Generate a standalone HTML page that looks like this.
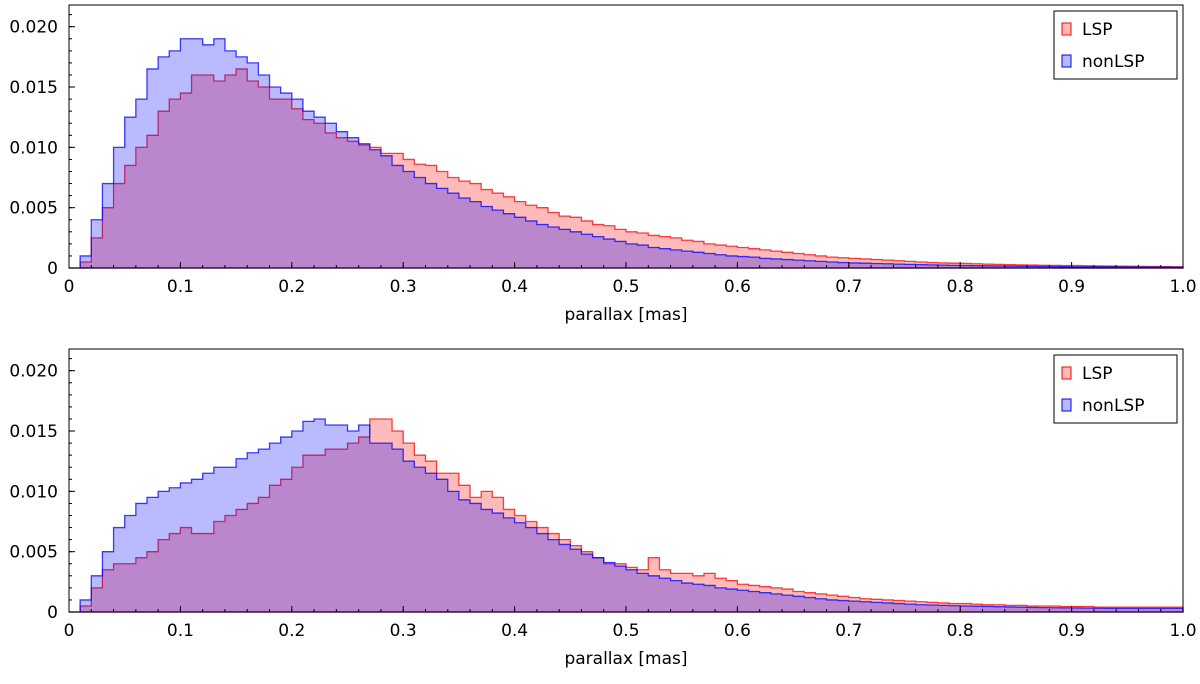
<!DOCTYPE html>
<html><head><meta charset="utf-8"><style>
body{margin:0;background:#fff;font-family:"DejaVu Sans","Liberation Sans",sans-serif}
svg text{font-family:"DejaVu Sans","Liberation Sans",sans-serif;font-size:17px;fill:#000}
</style></head><body>
<svg id="c" width="1200" height="680"></svg>
<script>
// bin edges: 100 bins of 0.01 from 0 to 1 (values in units of 1e-3)
const binStart = 0, binWidth = 0.01;
const topLSP = [0,0.5,2.5,5,7,8.5,10,11,13,14,14.5,16,16,15.5,16,16.5,15.5,15,14,14,13.2,12.3,12,11.2,10.8,10.5,10.2,10,9.5,9.5,9,8.6,8.5,8,7.5,7.2,7,6.5,6.2,5.9,5.5,5.2,5,4.6,4.3,4.2,3.9,3.6,3.5,3.2,3,2.9,2.7,2.6,2.5,2.3,2.2,2,1.9,1.8,1.7,1.6,1.5,1.4,1.3,1.2,1.1,1,0.9,0.85,0.8,0.75,0.7,0.65,0.6,0.55,0.5,0.45,0.42,0.4,0.38,0.35,0.32,0.3,0.28,0.26,0.25,0.23,0.22,0.2,0.2,0.18,0.17,0.16,0.15,0.14,0.13,0.12,0.11,0.1];
const topNon = [0,1,4,7,10,12.5,14,16.5,17.5,18,19,19,18.5,19,18,17.5,17,16,15,14.5,14,13,12.5,12,11.3,10.8,10.3,9.8,9.3,8.5,8,7.5,7,6.6,6.2,5.8,5.5,5.1,4.8,4.5,4.2,3.9,3.6,3.4,3.2,3,2.8,2.6,2.4,2.2,2,1.9,1.7,1.6,1.5,1.4,1.3,1.2,1.1,1,0.95,0.9,0.8,0.75,0.7,0.65,0.6,0.55,0.5,0.45,0.42,0.4,0.37,0.35,0.32,0.3,0.28,0.26,0.24,0.22,0.2,0.19,0.18,0.17,0.16,0.15,0.14,0.13,0.12,0.11,0.1,0.1,0.1,0.1,0.09,0.09,0.08,0.08,0.08,0.07];
const botLSP = [0,0.5,2,3.5,4,4,4.5,5,6,6.5,7,6.5,6.5,7.5,8,8.5,9,9.5,10.5,11,12,13,13,13.5,13.5,14,14.5,16,16,15,14,13,12.5,11.5,11.5,10.5,9.5,10,9.5,8.5,8,7.5,7,6.5,6,5.5,5,4.5,4,4,3.7,3.5,4.5,3.5,3.2,3.2,3,3.2,2.8,2.6,2.3,2.2,2.1,2,1.9,1.7,1.6,1.5,1.4,1.3,1.2,1.1,1.05,1,0.95,0.9,0.85,0.8,0.75,0.7,0.7,0.65,0.6,0.6,0.55,0.55,0.5,0.5,0.5,0.45,0.45,0.45,0.4,0.4,0.4,0.4,0.4,0.4,0.4,0.4];
const botNon = [0,1,3,5,7,8,9,9.5,10,10.3,10.7,11,11.5,12,12,12.7,13.2,13.5,14,14.5,15,15.8,16,15.5,15.5,15,15.5,14,14,13.5,12.5,12,11.5,11,10,9.3,9,8.5,8.2,7.8,7.4,7,6.5,6,5.6,5.2,4.8,4.5,4.1,3.8,3.5,3.2,3,2.8,2.6,2.4,2.3,2.2,2,1.9,1.8,1.7,1.6,1.5,1.4,1.3,1.2,1.1,1,0.95,0.9,0.85,0.8,0.75,0.7,0.65,0.6,0.58,0.55,0.52,0.5,0.48,0.46,0.44,0.42,0.4,0.38,0.36,0.35,0.34,0.33,0.32,0.31,0.3,0.3,0.3,0.3,0.3,0.3,0.3];
const xTicks = ["0","0.1","0.2","0.3","0.4","0.5","0.6","0.7","0.8","0.9","1.0"];
const yTicks = ["0","0.005","0.010","0.015","0.020"];
const seriesNames = ["LSP","nonLSP"];

const NS="http://www.w3.org/2000/svg";
const svg=document.getElementById('c');
function mk(t,a,p){const e=document.createElementNS(NS,t);for(const k in a)e.setAttribute(k,a[k]);(p||svg).appendChild(e);return e;}

function panel(top,bottom,lsp,non,name){
  const L=69,R=1183;
  const g=mk('g',{});
  
  
  const xs=v=>L+(v-0)*(R-L)/1.0;
  const ys=v=>bottom-(v/0.0218)*(bottom-top);
  function hist(vals,fill,stroke,nm){
    let d='M'+xs(binStart)+','+ys(0);
    vals.forEach((v,i)=>{const x0=xs(binStart+i*binWidth),x1=xs(binStart+(i+1)*binWidth),y=ys(v*1e-3);d+=' L'+x0+','+y+' L'+x1+','+y;});
    d+=' L'+xs(binStart+vals.length*binWidth)+','+ys(0)+' Z';
    const p=mk('path',{d:d,fill:fill,stroke:stroke,'stroke-width':1.3,'stroke-opacity':0.75},g);
    
    
  }
  hist(lsp,'rgba(255,0,0,0.27)','#ff0000',name+'-lsp-series');
  hist(non,'rgba(0,0,255,0.27)','#0000ff',name+'-nonlsp-series');
  const fr=mk('rect',{x:L,y:top,width:R-L,height:bottom-top,fill:'none',stroke:'#000','stroke-width':1},g);
  
  
  // x ticks
  xTicks.forEach((t,i)=>{const x=xs(i*0.1);
    mk('line',{x1:x,x2:x,y1:bottom,y2:bottom-6,stroke:'#000'},g);
    const tx=mk('text',{x:x,y:bottom+24,'text-anchor':'middle'},g);tx.textContent=t;
    
    
  });
  for(let i=0;i<=50;i++){const x=xs(i*0.02);mk('line',{x1:x,x2:x,y1:bottom,y2:bottom-3,stroke:'#000'},g);}
  yTicks.forEach((t,i)=>{const y=ys(i*0.005);
    mk('line',{x1:L,x2:L+6,y1:y,y2:y,stroke:'#000'},g);
    const tx=mk('text',{x:L-11,y:y+6,'text-anchor':'end'},g);tx.textContent=t;
    
    
  });
  for(let i=0;i<=21;i++){const y=ys(i*0.001);mk('line',{x1:L,x2:L+3,y1:y,y2:y,stroke:'#000'},g);}
  const xl=mk('text',{x:(L+R)/2,y:bottom+52,'text-anchor':'middle'},g);xl.textContent='parallax [mas]';
  
  
  // legend
  const lg=mk('g',{},g);
  
  
  mk('rect',{x:1054,y:top+6,width:123,height:68,fill:'#fff',stroke:'#000','stroke-width':1},lg);
  const cols=[['rgba(255,0,0,0.27)','#f00'],['rgba(0,0,255,0.27)','#00f']];
  seriesNames.forEach((n,i)=>{const y=top+18+i*32;
    const sw=mk('rect',{x:1062,y:y,width:9,height:12,fill:cols[i][0],stroke:cols[i][1],'stroke-width':1},lg);
    
    
    const t=mk('text',{x:1082,y:y+12},lg);t.textContent=n;
    
    
  });
}
panel(5,268,topLSP,topNon,'top-panel');
panel(349,612,botLSP,botNon,'bottom-panel');
</script>
</body></html>
